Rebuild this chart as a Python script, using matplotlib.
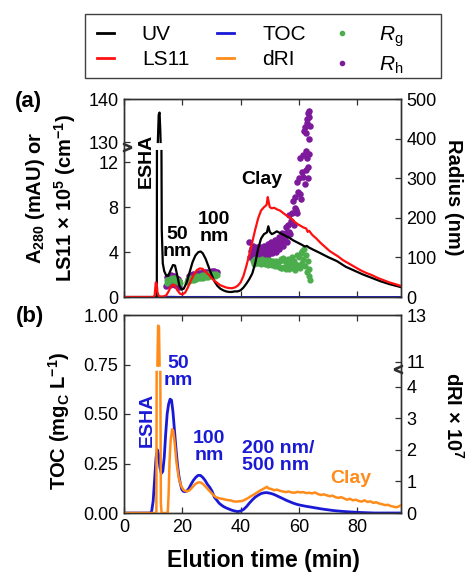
import numpy as np
import matplotlib
matplotlib.use("Agg")
import matplotlib.pyplot as plt
import matplotlib.transforms as mtransforms
from matplotlib.lines import Line2D
from matplotlib.patches import Rectangle

plt.rcParams['font.family'] = ['Liberation Sans', 'DejaVu Sans']
plt.rcParams['mathtext.fontset'] = 'custom'
plt.rcParams['mathtext.rm'] = 'Liberation Sans'
plt.rcParams['mathtext.it'] = 'Liberation Sans:italic'
plt.rcParams['mathtext.bf'] = 'Liberation Sans:bold'
plt.rcParams['axes.linewidth'] = 1.0

# ---------------- panel (a): UV absorbance and light scattering ----------------
uv_time = [0, 5, 10, 11.0, 11.25, 11.3, 11.45, 11.6, 11.9, 12.2, 12.45, 12.55, 12.7, 12.85, 12.95,
           13.3, 13.8, 14.5, 15.2, 16.0, 16.8, 17.5, 18.2, 19.0, 19.8, 20.5, 21.5, 22.5, 23.5, 24.5,
           25.5, 26.3, 27.0, 28.0, 29.0, 30.0, 31.0, 32.0, 33.0, 34.0, 35.0, 36.0, 37.0, 38.0, 39.0,
           40.0, 41.0, 42.0, 43.0, 44.0, 45.0, 46.0, 47.0, 48.0, 49.0, 49.5, 50.0, 50.7, 51.5, 52.4,
           53.5, 55.0, 56.5, 58.0, 59.5, 61.0, 62.0, 62.7, 63.5, 65.0, 67.0, 70.0, 73.0, 76.0, 79.0,
           82.0, 85.0, 88.0, 91.0, 95.0]
uv_signal = [0, 0, 0, 0, 0, 13, 70, 130.5, 136.5, 137, 133, 130.5, 70, 13, 6,
             3.0, 2.3, 1.9, 1.9, 2.4, 2.85, 2.8, 2.0, 1.0, 0.65, 0.75, 1.3, 2.2, 3.1, 3.7,
             4.0, 4.05, 3.9, 3.4, 2.7, 2.0, 1.4, 1.0, 0.75, 0.6, 0.5, 0.45, 0.45, 0.5, 0.5,
             0.6, 0.85, 1.2, 1.6, 2.1, 3.0, 4.3, 5.2, 5.6, 5.75, 6.3, 5.8, 5.6, 5.7, 5.85,
             5.7, 5.5, 5.3, 5.05, 4.85, 4.65, 4.5, 4.55, 4.4, 4.2, 3.95, 3.55, 3.2, 2.7, 2.35,
             2.0, 1.7, 1.4, 1.15, 0.88]

ls_time = [0, 10, 10.5, 10.9, 11.2, 11.5, 11.9, 12.3, 12.8, 13.5, 14.5, 15.3, 16.0, 16.8, 17.5,
           18.3, 19.2, 20.0, 21.0, 22.0, 23.0, 24.0, 25.0, 26.0, 27.0, 28.0, 29.0, 30.0, 31.0, 32.0,
           33.0, 34.0, 35.0, 36.0, 37.0, 38.0, 39.0, 40.0, 41.0, 42.0, 43.0, 44.0, 45.0, 46.0, 47.0,
           48.0, 48.9, 49.3, 49.6, 50.0, 50.7, 51.5, 52.5, 53.5, 54.5, 55.5, 56.5, 57.5, 58.5, 59.5,
           60.5, 61.5, 62.5, 63.0, 63.5, 64.5, 66.0, 67.5, 69.0, 70.5, 72.0, 73.5, 75.0, 77.0, 79.0,
           81.0, 83.0, 85.0, 87.0, 89.0, 91.0, 93.0, 95.0]
ls_signal = [0, 0, 0.1, 1.3, 1.2, 0.4, 0.1, 0.05, 0.05, 0.05, 0.15, 0.5, 0.9, 1.1, 1.0,
             0.6, 0.3, 0.22, 0.4, 0.9, 1.5, 2.0, 2.4, 2.55, 2.5, 2.25, 2.0, 1.7, 1.45, 1.25,
             1.05, 0.95, 0.85, 0.8, 0.78, 0.85, 1.0, 1.3, 1.9, 2.8, 3.8, 4.9, 6.0, 7.0, 7.7,
             8.0, 8.2, 8.9, 8.5, 8.0, 7.9, 7.95, 7.8, 7.7, 7.5, 7.3, 7.15, 6.95, 6.7, 6.5,
             6.35, 6.2, 6.1, 5.8, 5.9, 5.55, 5.2, 4.8, 4.45, 4.1, 3.85, 3.6, 3.3, 3.0, 2.7,
             2.4, 2.15, 1.95, 1.7, 1.5, 1.3, 1.15, 0.98]

# radius of gyration (Rg) and hydrodynamic radius (Rh), nm
rg_time = [14.6, 14.9, 15.2, 15.5, 15.8, 16.1, 16.4, 16.7, 17.0, 17.3, 17.6, 17.9, 18.2, 18.5, 18.8, 19.1,
           21.6, 22.0, 22.4, 22.8, 23.2, 23.6, 24.0, 24.4, 24.8, 25.2, 25.6, 26.0, 26.4, 26.8, 27.2,
           27.6, 28.0, 28.4, 28.8, 29.2, 29.6, 30.0, 30.4, 30.8, 31.2, 31.6, 32.0,
           44.4, 44.7, 45.0, 45.3, 45.6, 45.9, 46.2, 46.5, 46.8, 47.1, 47.4, 47.7, 48.0, 48.3, 48.6,
           48.9, 49.2, 49.5, 49.8, 50.1, 50.4, 50.7, 51.0, 51.3, 51.6, 51.9, 52.2, 52.5, 52.8, 53.1,
           53.4, 53.7, 54.0, 54.3, 54.6, 54.9, 55.2, 55.5, 55.8, 56.1, 56.4, 56.7, 57.0, 57.3, 57.6,
           57.9, 58.2, 58.5, 58.8, 59.1, 59.4, 59.7, 60.0, 60.3, 60.6, 60.9, 61.2, 61.5, 61.8, 62.1,
           62.4, 62.7, 63.0, 63.3, 63.6, 63.9]
rg_radius = [36, 42, 44, 40, 46, 43, 48, 44, 47, 42, 45, 40, 43, 38, 40, 36,
             38, 45, 40, 47, 42, 49, 44, 51, 45, 52, 47, 53, 48, 55, 49,
             56, 50, 57, 51, 58, 52, 58, 53, 59, 54, 58, 55,
             92, 84, 95, 86, 93, 85, 94, 87, 92, 84, 95, 86, 92, 83, 94,
             85, 91, 82, 93, 84, 90, 81, 92, 83, 89, 78, 91, 80, 88, 76,
             90, 74, 95, 72, 98, 77, 92, 70, 86, 75, 97, 70, 88, 78, 102,
             72, 92, 68, 84, 74, 106, 80, 100, 72, 110, 85, 116, 95, 120, 78,
             106, 62, 90, 52, 70, 42]

rh_time = [14.5, 14.8, 15.1, 15.4, 15.7, 16.0, 16.3, 16.6, 16.9, 17.2, 17.5, 17.8, 18.1, 18.4, 18.7, 19.0,
           21.8, 22.2, 22.6, 23.0, 23.4, 23.8, 24.2, 24.6, 25.0, 25.4, 25.8, 26.2, 26.6, 27.0, 27.4,
           27.8, 28.2, 28.6, 29.0, 29.4, 29.8, 30.2, 30.6, 31.0, 31.4, 31.8,
           43.0, 43.25, 43.5, 43.75, 44.0, 44.25, 44.5, 44.75, 45.0, 45.25, 45.5, 45.75, 46.0, 46.25,
           46.5, 46.75, 47.0, 47.25, 47.5, 47.75, 48.0, 48.25, 48.5, 48.75, 49.0, 49.25, 49.5, 49.75,
           50.0, 50.25, 50.5, 50.75, 51.0, 51.25, 51.5, 51.75, 52.0, 52.25, 52.5, 52.75, 53.0, 53.25,
           53.5, 53.75, 54.0, 54.25, 54.5, 54.75, 55.0, 55.25, 55.5, 55.75, 56.0, 56.25, 56.5, 56.75,
           57.0, 57.25, 57.5, 57.75, 58.0, 58.25, 58.5, 58.75, 59.0, 59.25, 59.5, 59.75, 60.0, 60.25,
           60.5, 60.75, 61.0, 61.25, 61.5, 61.75, 62.0, 62.25, 62.5, 62.75, 63.0, 63.25, 63.5, 63.75,
           62.1, 62.4, 62.6, 62.9, 63.1, 63.3, 63.4, 63.6]
rh_radius = [28, 50, 32, 52, 30, 55, 35, 54, 33, 52, 30, 48, 28, 45, 26, 40,
             44, 52, 46, 55, 49, 57, 51, 59, 53, 60, 55, 61, 56, 62, 57,
             63, 58, 64, 59, 64, 60, 65, 60, 65, 61, 64,
             138, 102, 117, 123, 107, 128, 100, 114, 120, 107, 127, 100, 113, 120,
             107, 126, 100, 114, 121, 108, 130, 103, 118, 125, 112, 134, 107, 121,
             129, 116, 138, 111, 126, 134, 120, 143, 114, 131, 140, 126, 151, 121,
             139, 149, 134, 161, 129, 148, 159, 144, 178, 140, 165, 182, 163, 206,
             158, 191, 213, 188, 243, 183, 225, 252, 220, 291, 213, 266, 300, 259,
             350, 248, 315, 358, 304, 420, 285, 369, 414, 351, 465, 328, 398, 432,
             430, 320, 450, 440, 300, 470, 455, 360]

# ---------------- panel (b): organic carbon and refractive index ----------------
toc_time = [0, 5, 9.0, 9.5, 10.0, 10.5, 11.0, 11.4, 11.8, 12.3, 12.8, 13.3, 13.8, 14.3, 14.8,
            15.3, 15.8, 16.3, 16.8, 17.3, 17.8, 18.3, 18.8, 19.3, 19.8, 20.3, 20.8, 21.5, 22.3, 23.0,
            23.8, 24.6, 25.4, 26.2, 27.0, 27.8, 28.6, 29.4, 30.2, 31.0, 31.8, 32.6, 33.4, 34.2, 35.0,
            36.0, 37.0, 38.0, 39.0, 40.0, 41.0, 42.0, 43.0, 44.0, 45.0, 46.0, 47.0, 48.0, 49.0, 50.0,
            51.0, 52.0, 53.0, 54.0, 55.0, 56.0, 57.0, 58.0, 59.0, 60.0, 62.0, 64.0, 66.0, 68.0, 70.0,
            72.0, 75.0, 78.0, 82.0, 86.0, 95.0]
toc_conc = [0, 0, 0, 0.01, 0.06, 0.17, 0.28, 0.32, 0.3, 0.23, 0.2, 0.21, 0.28, 0.4, 0.5,
            0.55, 0.575, 0.57, 0.51, 0.42, 0.33, 0.25, 0.19, 0.15, 0.12, 0.11, 0.108, 0.11, 0.125, 0.145,
            0.165, 0.18, 0.19, 0.19, 0.18, 0.165, 0.145, 0.13, 0.11, 0.08, 0.065, 0.05, 0.04, 0.032, 0.026,
            0.02, 0.014, 0.01, 0.007, 0.01, 0.018, 0.032, 0.05, 0.066, 0.08, 0.09, 0.098, 0.102, 0.103, 0.1,
            0.096, 0.09, 0.083, 0.076, 0.069, 0.062, 0.056, 0.05, 0.045, 0.041, 0.035, 0.03, 0.025, 0.02, 0.016,
            0.012, 0.008, 0.005, 0.002, 0.0, 0.0]

dri_time = [0, 5, 10, 11.1, 11.2, 11.3, 11.45, 11.7, 12.0, 12.2, 12.35, 12.45, 12.65, 12.9, 13.5,
            14.5, 15.0, 15.3, 15.6, 16.0, 16.5, 16.9, 17.4, 18.0, 18.8, 19.6, 20.5, 21.5, 22.5, 23.5,
            24.5, 25.5, 26.5, 27.5, 28.5, 29.5, 30.5, 31.5, 32.5, 33.5, 34.5, 35.5, 36.5, 37.5, 38.5,
            39.5, 40.5, 41.5, 42.5, 43.5, 44.5, 45.5, 46.5, 47.5, 48.5, 49.0, 49.5, 50.5, 51.5, 52.5,
            53.5, 54.5, 55.5, 56.5, 57.5, 58.5, 59.5, 60.5, 61.5, 62.5, 63.5, 64.5, 65.5, 66.5, 67.5,
            68.5, 69.5, 70.5, 71.5, 72.5, 73.5, 74.5, 75.5, 76.5, 77.5, 78.5, 79.5, 80.5, 81.5, 82.5,
            83.5, 84.5, 85.5, 86.5, 87.5, 88.5, 89.5, 90.5, 91.5, 92.5, 93.5, 94.5, 95.0]
dri_signal = [0, 0, 0, 0, 4.46, 8, 10.85, 12.55, 12.5, 10.85, 8, 4.46, 0.3, 0, 0,
              0, 0, 0.6, 1.6, 2.3, 2.65, 2.6, 2.2, 1.6, 1.1, 0.85, 0.72, 0.68, 0.72, 0.82,
              0.92, 0.97, 0.96, 0.88, 0.78, 0.68, 0.58, 0.5, 0.47, 0.45, 0.43, 0.41, 0.4, 0.37, 0.36,
              0.37, 0.38, 0.42, 0.47, 0.53, 0.58, 0.64, 0.7, 0.75, 0.8, 0.83, 0.78, 0.76, 0.72, 0.74,
              0.7, 0.68, 0.66, 0.68, 0.65, 0.64, 0.67, 0.65, 0.66, 0.63, 0.64, 0.62, 0.65, 0.6, 0.57,
              0.59, 0.56, 0.53, 0.55, 0.5, 0.48, 0.5, 0.46, 0.42, 0.45, 0.4, 0.42, 0.38, 0.36, 0.4,
              0.35, 0.37, 0.32, 0.34, 0.3, 0.28, 0.25, 0.26, 0.22, 0.2, 0.18, 0.22, 0.25]

# axis ticks
time_ticks = [0, 20, 40, 60, 80]
a_left_ticks = [0, 4, 8, 12, 130, 140]
a_right_ticks = [0, 100, 200, 300, 400, 500]
b_left_ticks = [0, 0.25, 0.5, 0.75, 1.0]
b_left_labels = ['0.00', '0.25', '0.50', '0.75', '1.00']
b_right_ticks = [0, 1, 2, 3, 4, 11, 13]

C_UV, C_LS, C_TOC, C_DRI = '#000000', '#ff1010', '#1a1ad6', '#ff8c1a'
C_RG, C_RH = '#4cad4c', '#7d1a9c'
SPINE = '#303030'


def broken_scale(src, dst):
    """Piecewise-linear axis mapping that squeezes an unused value range."""
    src = np.asarray(src, float)
    dst = np.asarray(dst, float)
    return (lambda v: np.interp(v, src, dst)), (lambda u: np.interp(u, dst, src))


def hide_gap(values, lo, hi):
    v = np.asarray(values, float)
    return np.ma.masked_where((v > lo) & (v < hi), v)


A_LO, A_HI = 13.0, 130.5     # hidden range on left axis of (a)
B_LO, B_HI = 4.46, 10.85     # hidden range on right axis of (b)
a_fwd, a_inv = broken_scale([-1000, 0, A_LO, A_HI, 140, 1140],
                            [-11170, 0, 145.2, 154.25, 197, 4697])
b_fwd, b_inv = broken_scale([-100, 0, B_LO, B_HI, 13, 113],
                            [-3160, 0, 141, 147.5, 198, 2548])

fig = plt.figure(figsize=(4.73, 5.75), dpi=100)
ax_a = fig.add_axes([124 / 473, 1 - 297 / 575, 277 / 473, 198 / 575])
ax_ar = ax_a.twinx()
ax_a.set_zorder(ax_ar.get_zorder() + 1)
ax_a.patch.set_visible(False)

ax_b = fig.add_axes([124 / 473, 1 - 513 / 575, 277 / 473, 198 / 575])
ax_br = ax_b.twinx()

# ---- panel (a) marks ----
ax_ar.plot(toc_time, toc_conc, color=C_TOC, lw=1.4)
ax_ar.scatter(rh_time, rh_radius, s=22, color=C_RH, linewidths=0)
ax_ar.scatter(rg_time, rg_radius, s=20, color=C_RG, linewidths=0)
ax_a.plot(uv_time, hide_gap(uv_signal, A_LO, A_HI), color=C_UV, lw=1.6)
ax_a.plot(ls_time, hide_gap(ls_signal, A_LO, A_HI), color=C_LS, lw=1.6)

ax_a.set_yscale('function', functions=(a_fwd, a_inv))
ax_a.set_ylim(0, 140)
ax_a.set_yticks(a_left_ticks, labels=[str(t) for t in a_left_ticks])
ax_a.set_xlim(0, 95)
ax_a.set_xticks(time_ticks)
ax_a.tick_params(axis='x', labelbottom=False)

# ---- panel (b) marks ----
ax_b.plot(toc_time, toc_conc, color=C_TOC, lw=2.0)
ax_br.plot(dri_time, hide_gap(dri_signal, B_LO, B_HI), color=C_DRI, lw=1.8)
ax_b.set_ylim(0, 1.0)
ax_b.set_yticks(b_left_ticks, labels=b_left_labels)
ax_br.set_yscale('function', functions=(b_fwd, b_inv))
ax_br.set_ylim(0, 13)
ax_br.set_yticks(b_right_ticks, labels=[str(t) for t in b_right_ticks])
ax_b.set_xlim(0, 95)
ax_b.set_xticks(time_ticks, labels=[str(t) for t in time_ticks])

for ax in (ax_a, ax_ar, ax_b, ax_br):
    ax.minorticks_off()
    ax.tick_params(direction='in', length=4.5, width=0.9, labelsize=13, color=SPINE,
                   pad=4, top=True)
    for sp in ax.spines.values():
        sp.set_color(SPINE)
        sp.set_linewidth(1.0)
for ax in (ax_a, ax_b):
    ax.tick_params(axis='y', right=False)
for ax in (ax_ar, ax_br):
    ax.tick_params(axis='y', left=False)
ax_ar.set_ylim(0, 500)
ax_ar.set_yticks(a_right_ticks, labels=[str(t) for t in a_right_ticks])
ax_ar.minorticks_off()

# axis-break marks on the spines
brk_a = mtransforms.blended_transform_factory(ax_a.transAxes, ax_a.transData)
ax_a.plot([0.012], [70], marker=r'$>$', ms=6, color=SPINE, transform=brk_a, clip_on=False)
brk_b = mtransforms.blended_transform_factory(ax_br.transAxes, ax_br.transData)
ax_br.plot([0.988], [7.6], marker=r'$<$', ms=6, color=SPINE, transform=brk_b, clip_on=False)

# annotations
bold = dict(fontweight='bold', fontsize=14)
ax_a.text(0.079, 0.69, 'ESHA', rotation=90, ha='center', va='center', transform=ax_a.transAxes, **bold)
ax_a.text(0.191, 0.273, '50\nnm', ha='center', va='center', linespacing=1.0, transform=ax_a.transAxes, **bold)
ax_a.text(0.325, 0.351, '100\nnm', ha='center', va='center', linespacing=1.0, transform=ax_a.transAxes, **bold)
ax_a.text(0.498, 0.591, 'Clay', ha='center', va='center', transform=ax_a.transAxes, **bold)

ax_b.text(0.083, 0.47, 'ESHA', rotation=90, ha='center', va='center', color=C_TOC,
          transform=ax_b.transAxes, **bold)
ax_b.text(0.195, 0.712, '50\nnm', ha='center', va='center', linespacing=1.0, color=C_TOC,
          transform=ax_b.transAxes, **bold)
ax_b.text(0.307, 0.332, '100\nnm', ha='center', va='center', linespacing=1.0, color=C_TOC,
          transform=ax_b.transAxes, **bold)
ax_b.text(0.426, 0.283, '200 nm/\n500 nm', ha='left', va='center', linespacing=1.0, color=C_TOC,
          transform=ax_b.transAxes, **bold)
ax_b.text(0.819, 0.174, 'Clay', ha='center', va='center', color=C_DRI,
          transform=ax_b.transAxes, **bold)

# axis titles
lab = dict(fontweight='bold', fontsize=14.5, ha='center', va='center')
fig.text(0.108, 0.656,
         r'$\mathbf{A}_{\mathbf{280}}$ (mAU) or' + '\n' + r'LS11 × 10$^{\mathbf{5}}$ (cm$^{\mathbf{-1}}$)',
         rotation=90, linespacing=1.25, **lab)
fig.text(0.124, 0.268, r'TOC (mg$_{\mathbf{C}}$ L$^{\mathbf{-1}}$)', rotation=90, **lab)
fig.text(0.958, 0.657, 'Radius (nm)', rotation=270, **lab)
fig.text(0.958, 0.278, r'dRI × 10$^{\mathbf{7}}$', rotation=270, **lab)
fig.text(0.556, 0.026, 'Elution time (min)', fontweight='bold', fontsize=16.5, ha='center', va='center')
fig.text(0.061, 0.824, '(a)', fontweight='bold', fontsize=16, ha='center', va='center')
fig.text(0.063, 0.449, '(b)', fontweight='bold', fontsize=16, ha='center', va='center')

# legend: entries without frame, box drawn around the whole header area
handles = [Line2D([], [], color=C_UV, lw=2), Line2D([], [], color=C_LS, lw=2),
           Line2D([], [], color=C_TOC, lw=2), Line2D([], [], color=C_DRI, lw=2),
           Line2D([], [], color=C_RG, marker='o', ms=3, ls=''),
           Line2D([], [], color=C_RH, marker='o', ms=3, ls='')]
names = ['UV', 'LS11', 'TOC', 'dRI', r'$\mathit{R}_\mathrm{g}$', r'$\mathit{R}_\mathrm{h}$']
fig.legend(handles, names, ncol=3, loc='upper left', bbox_to_anchor=(97 / 473, 1 - 24 / 575),
           fontsize=15, frameon=False, borderpad=0, borderaxespad=0,
           handlelength=0.8, handletextpad=1.35, columnspacing=1.35, labelspacing=0.3)
fig.patches.append(Rectangle((85 / 473, 1 - 78 / 575), 356 / 473, 64 / 575, transform=fig.transFigure,
                             fill=False, edgecolor='#404040', lw=1.0))

fig.savefig('out.png', dpi=100)
